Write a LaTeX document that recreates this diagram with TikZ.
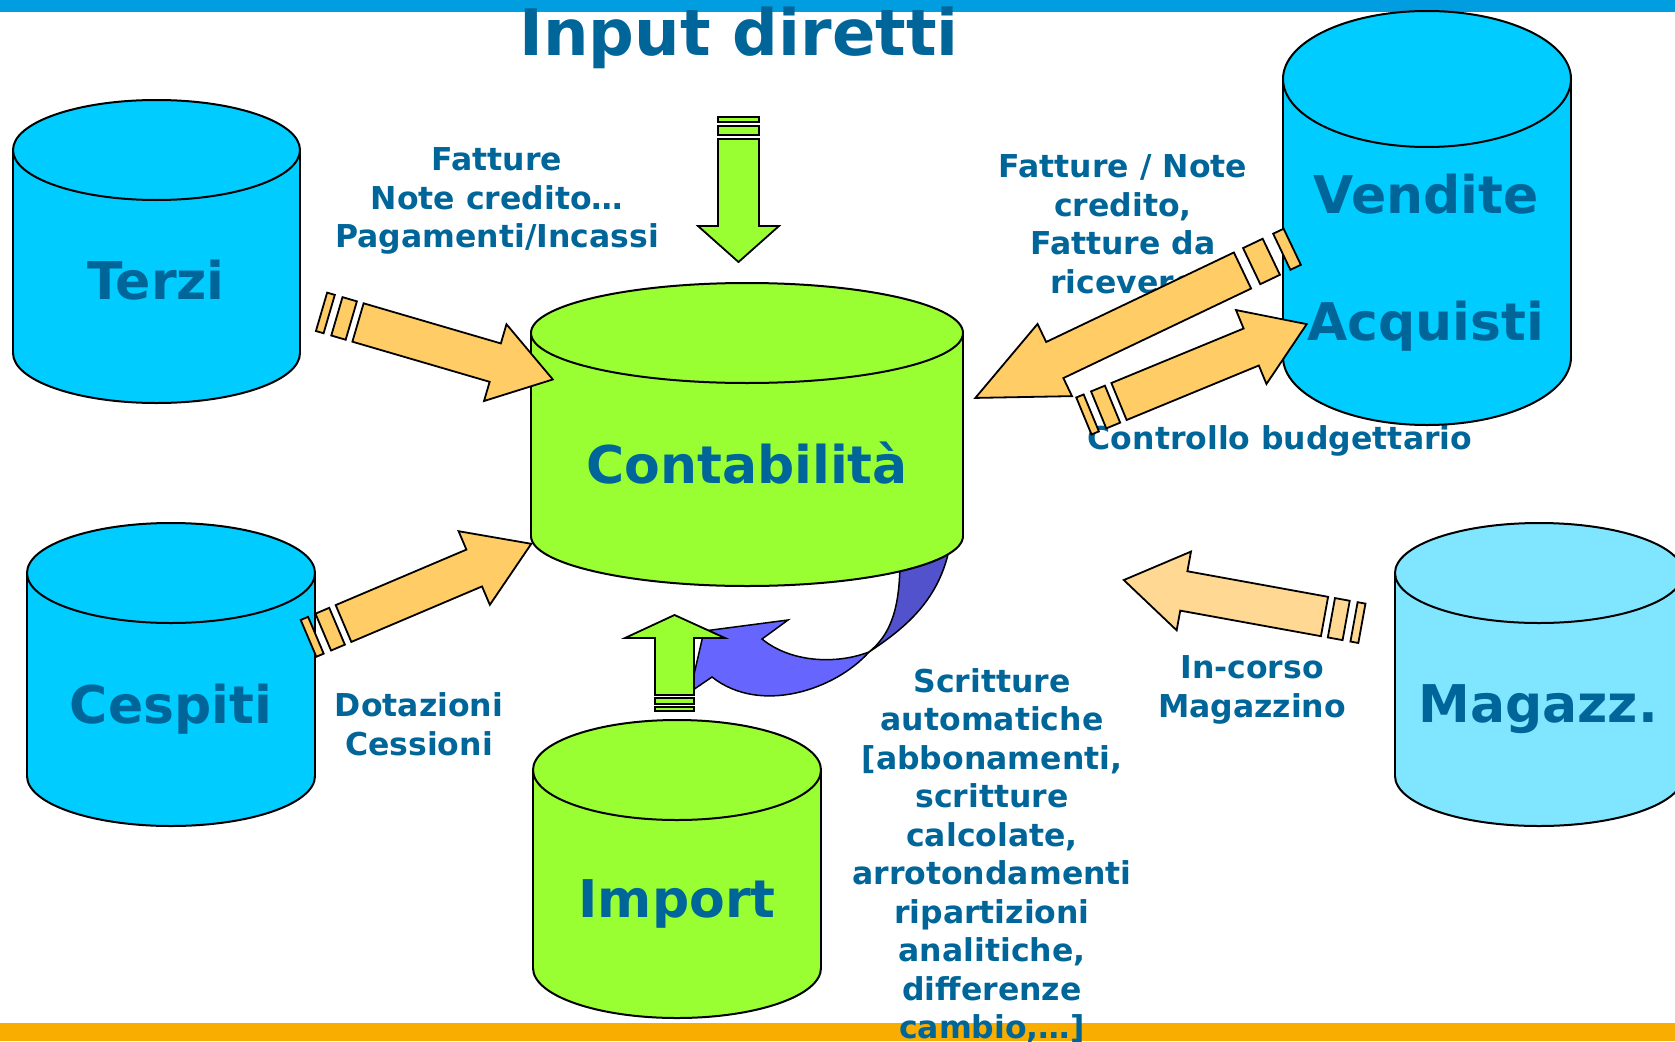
\documentclass[tikz,border=0pt]{standalone}
\usepackage{fontspec}
\setmainfont{DejaVu Sans}
\definecolor{topbar}{HTML}{009EE0}
\definecolor{botbar}{HTML}{F8AD00}
\definecolor{cyanc}{HTML}{00CCFF}
\definecolor{greenc}{HTML}{99FF33}
\definecolor{magc}{HTML}{80E5FF}
\definecolor{txtblue}{HTML}{006699}
\definecolor{orangec}{HTML}{FFCC66}
\definecolor{orangel}{HTML}{FFD993}
\definecolor{bluefront}{HTML}{6666FF}
\definecolor{blueback}{HTML}{5252CC}
\tikzset{
  cylline/.style={draw=black, line width=2pt},
  arrline/.style={draw=black, line width=1.8pt, line join=miter},
  bigtxt/.style={text=txtblue, font=\fontsize{52}{60}\selectfont\bfseries, inner sep=0pt, anchor=base},
  lbl/.style={text=txtblue, font=\fontsize{31.5}{38.5}\selectfont\bfseries, align=center, inner sep=0pt},
}
% cx, top cy, bottom cy, rx, ry, colour
\newcommand\dbcyl[6]{%
  \filldraw[fill=#6, cylline] (#1,#3) ellipse [x radius=#4, y radius=#5];
  \fill[#6] ({#1-#4},#2) rectangle ({#1+#4},#3);
  \draw[cylline] ({#1-#4},#2) -- ({#1-#4},#3) ({#1+#4},#2) -- ({#1+#4},#3);
  \filldraw[fill=#6, cylline] (#1,#2) ellipse [x radius=#4, y radius=#5];
}
% x, y (tail centre), angle, length, head length, stripe scale, colour
\newcommand\stripearrow[7]{%
  \begin{scope}[shift={(#1,#2)}, rotate=#3]
    \filldraw[fill=#7, arrline] (0,-20) -- ({#4-#5},-20) -- ({#4-#5},-40) -- (#4,0) -- ({#4-#5},40) -- ({#4-#5},20) -- (0,20) -- cycle;
    \filldraw[fill=#7, arrline] ({-7*#6},-20) rectangle ({-22*#6},20);
    \filldraw[fill=#7, arrline] ({-30*#6},-20) rectangle ({-38*#6},20);
  \end{scope}
}
\begin{document}
\begin{tikzpicture}[x=1pt, y=-1pt]
\useasboundingbox (0,0) rectangle (1675,1041);
\fill[white] (0,0) rectangle (1675,1041);
% bars
\fill[topbar] (0,0) rectangle (1675,12);
\fill[botbar] (0,1023) rectangle (1675,1041);

% title
\node[text=txtblue, font=\fontsize{64}{70}\selectfont\bfseries, inner sep=0pt, anchor=base] (title) at (739,56) {Input diretti};

% labels
\node[lbl] (l1) at (497,201) {Fatture\\Note credito…\\Pagamenti/Incassi};
\node[lbl] (l2) at (1123,224) {Fatture / Note\\credito,\\Fatture da\\ricevere};
\node[lbl] (l3) at (1280,441) {Controllo budgettario};
\node[lbl] (l4) at (419,724) {Dotazioni\\Cessioni};
\node[lbl] (l5) at (1252,690) {In-corso\\Magazzino};
\node[lbl] (l6) at (992,856) {Scritture\\automatiche\\{[}abbonamenti,\\scritture\\calcolate,\\arrotondamenti\\ripartizioni\\analitiche,\\differenze\\cambio,…{]}};

% cylinders
\dbcyl{156.5}{150}{353}{143.5}{50}{cyanc}
\dbcyl{171}{573}{776}{144}{50}{cyanc}
\dbcyl{1427}{79}{357}{144}{68}{cyanc}
\dbcyl{1539}{573}{776}{144}{50}{magc}
\dbcyl{677}{770}{968}{144}{50}{greenc}

% curved arrow (back face, then front face)
\filldraw[fill=blueback, draw=black, line width=1.5pt] (900,540) -- (900,560) .. controls (900,610) and (890,635) .. (869,652)
   .. controls (905,628) and (940,600) .. (950,545) -- (952,538) -- cycle;
\filldraw[fill=bluefront, draw=black, line width=1.5pt, line join=miter] (704,631) -- (788,620) -- (762,639)
   .. controls (790,662) and (835,665) .. (869,652)
   .. controls (835,690) and (760,715) .. (712,677) -- (690,692) -- cycle;

% central cylinder
\dbcyl{747}{333}{536}{216}{50}{greenc}

% big texts
\node[bigtxt] (terzi) at (156,299) {Terzi};
\node[bigtxt] (cespiti) at (171,723) {Cespiti};
\node[bigtxt] (conta) at (747,483) {Contabilità};
\node[bigtxt] (import) at (677,917) {Import};
\node[bigtxt] (vendite) at (1426,213) {Vendite};
\node[bigtxt] (acquisti) at (1426,340) {Acquisti};
\node[bigtxt] (magazz) at (1538,722) {Magazz.};

% green up arrow (Import)
\filldraw[fill=greenc, arrline] (655,695) -- (655,638) -- (625,638) -- (674.5,615) -- (725,638) -- (694,638) -- (694,695) -- cycle;
\filldraw[fill=greenc, arrline, line width=1.2pt] (655,698) rectangle (694,704);
\filldraw[fill=greenc, arrline, line width=1.2pt] (655,707) rectangle (694,711);

% green down arrow (Input diretti)
\filldraw[fill=greenc, arrline] (718,139) -- (718,226) -- (698,226) -- (738.5,262) -- (779,226) -- (759,226) -- (759,139) -- cycle;
\filldraw[fill=greenc, arrline, line width=1.2pt] (718,126) rectangle (759,135);
\filldraw[fill=greenc, arrline, line width=1.2pt] (718,117) rectangle (759,122);

% orange striped arrows
\stripearrow{358}{322.5}{-16.3}{203}{60}{1}{orangec}
\stripearrow{343.5}{623.5}{23}{204}{62}{1}{orangec}
\stripearrow{1242.5}{270.5}{205.5}{296}{88}{1.45}{orangec}
\stripearrow{1119}{401.5}{22.4}{203}{60}{1}{orangec}
\stripearrow{1324.5}{616.5}{169.7}{204}{61}{1}{orangel}
\end{tikzpicture}
\end{document}
